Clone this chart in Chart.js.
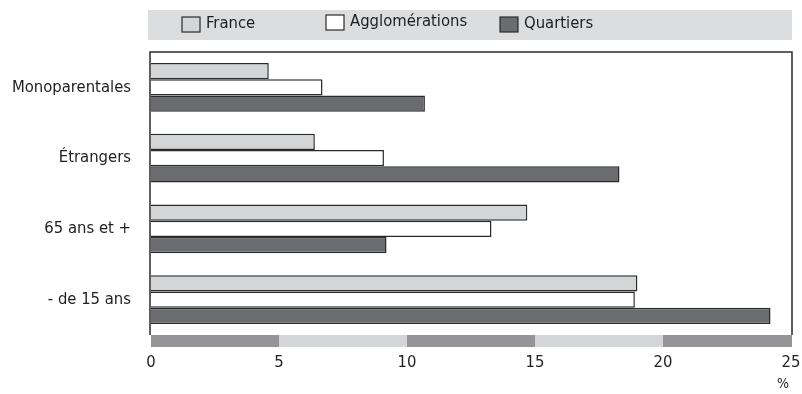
<!DOCTYPE html>
<html>
<head>
<meta charset="utf-8">
<script src="https://cdn.jsdelivr.net/npm/chart.js@4/dist/chart.umd.min.js"></script>
<style>
  html, body { margin: 0; padding: 0; background: #fff; }
  #wrap { width: 802px; height: 394px; position: relative; }
</style>
</head>
<body>
<div id="wrap"><canvas id="chart" width="802" height="394"></canvas></div>
<script>
/* ================================
   Data
================================ */
const categories = ["Monoparentales", "Étrangers", "65 ans et +", "- de 15 ans"];
const seriesNames = ["France", "Agglomérations", "Quartiers"];
const franceValues = [4.6, 6.4, 14.7, 19.0];
const agglomerationValues = [6.7, 9.1, 13.3, 18.9];
const quartierValues = [10.7, 18.3, 9.2, 24.2];
const xTicks = [0, 5, 10, 15, 20, 25];

const FONT = "'Liberation Sans Narrow', 'DejaVu Sans Condensed', 'Open Sans', sans-serif";
const fillColors = ["#d4d5d7", "#ffffff", "#6b6c70"];
const edge = "#2b2b2b";

/* ================================
   Decorations (legend band, frame, bottom band)
================================ */
const decorations = {
  id: "decorations",
  beforeDraw(chart) {
    const { ctx, chartArea } = chart;
    ctx.save();
    // legend band
    ctx.fillStyle = "#dcdddf";
    ctx.fillRect(chartArea.left - 3, 10, chartArea.right - chartArea.left + 4, 30);
    const items = [
      { x: 182, y: 17, label: seriesNames[0], fill: fillColors[0] },
      { x: 326, y: 15, label: seriesNames[1], fill: fillColors[1] },
      { x: 500, y: 17, label: seriesNames[2], fill: fillColors[2] }
    ];
    ctx.font = "16.5px " + FONT;
    ctx.textBaseline = "middle";
    items.forEach(it => {
      ctx.fillStyle = it.fill;
      ctx.fillRect(it.x, it.y, 18, 15);
      ctx.strokeStyle = edge;
      ctx.lineWidth = 1.2;
      ctx.strokeRect(it.x, it.y, 18, 15);
      ctx.fillStyle = "#1e1e1e";
      ctx.fillText(it.label, it.x + 24, it.y + 7);
    });
    ctx.restore();
  },
  afterDraw(chart) {
    const { ctx, chartArea, scales } = chart;
    const x = scales.x;
    ctx.save();
    // frame
    ctx.strokeStyle = edge;
    ctx.lineWidth = 1.5;
    ctx.beginPath();
    ctx.moveTo(chartArea.left - 1, chartArea.bottom);
    ctx.lineTo(chartArea.left - 1, chartArea.top);
    ctx.lineTo(chartArea.right + 1, chartArea.top);
    ctx.lineTo(chartArea.right + 1, chartArea.bottom);
    ctx.stroke();
    // alternating band under the plot
    for (let i = 0; i < xTicks.length - 1; i++) {
      const x0 = x.getPixelForValue(xTicks[i]);
      const x1 = x.getPixelForValue(xTicks[i + 1]);
      ctx.fillStyle = i % 2 === 0 ? "#959598" : "#d4d5d7";
      ctx.fillRect(x0, chartArea.bottom, x1 - x0 + (i === xTicks.length - 2 ? 1 : 0), 12);
    }
    // unit
    ctx.fillStyle = "#1e1e1e";
    ctx.font = "14px " + FONT;
    ctx.textAlign = "center";
    ctx.textBaseline = "middle";
    ctx.fillText("%", x.getPixelForValue(25) - 8, 384);
    ctx.restore();
  }
};

/* ================================
   Chart
================================ */
function makeDataset(i, values) {
  return {
    label: seriesNames[i],
    data: values,
    backgroundColor: fillColors[i],
    borderColor: edge,
    borderWidth: 1.5,
    borderSkipped: "start",
    barPercentage: 1,
    categoryPercentage: 0.69
  };
}

new Chart(document.getElementById("chart"), {
  type: "bar",
  data: {
    labels: categories,
    datasets: [
      makeDataset(0, franceValues),
      makeDataset(1, agglomerationValues),
      makeDataset(2, quartierValues)
    ]
  },
  options: {
    indexAxis: "y",
    responsive: false,
    animation: false,
    layout: { padding: { left: 0, top: 52, right: 11, bottom: 0 } },
    plugins: {
      legend: { display: false },
      tooltip: { enabled: false }
    },
    scales: {
      x: {
        min: 0,
        max: 25,
        afterFit: s => { s.height = 59; s.paddingLeft = 0; s.paddingRight = 0; },
        afterBuildTicks: s => { s.ticks = xTicks.map(v => ({ value: v })); },
        grid: { display: false, drawTicks: false },
        border: { display: false },
        ticks: {
          padding: 18,
          color: "#1e1e1e",
          font: { family: FONT, size: 16.5 },
          maxRotation: 0
        }
      },
      y: {
        afterFit: s => { s.width = 151; s.paddingTop = 0; s.paddingBottom = 0; },
        grid: { display: false, drawTicks: false },
        border: { display: false },
        ticks: {
          padding: 20,
          color: "#1e1e1e",
          font: { family: FONT, size: 16.5 }
        }
      }
    }
  },
  plugins: [decorations]
});
</script>
</body>
</html>
